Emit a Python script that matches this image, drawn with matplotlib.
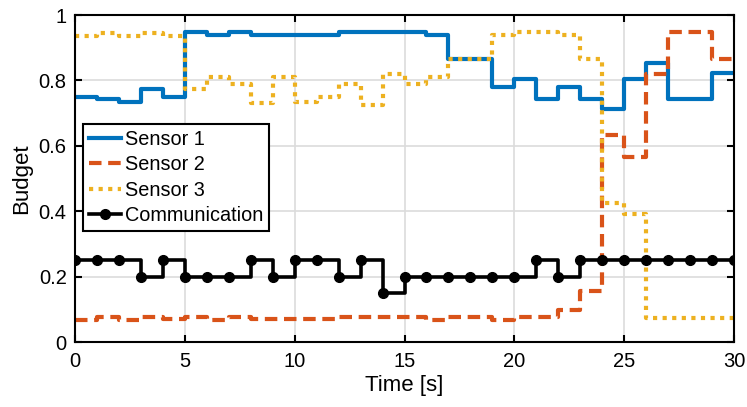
import numpy as np
import matplotlib
matplotlib.use("Agg")
import matplotlib.pyplot as plt

plt.rcParams['font.family'] = ['Liberation Sans', 'DejaVu Sans']

# Time grid (one budget value per second; the last value is held to t = 30)
time = np.arange(0, 31)

sensor1 = [0.749, 0.742, 0.733, 0.774, 0.750, 0.947, 0.940, 0.947, 0.940, 0.940,
           0.940, 0.940, 0.947, 0.947, 0.947, 0.947, 0.940, 0.867, 0.867, 0.779,
           0.804, 0.742, 0.779, 0.742, 0.713, 0.804, 0.852, 0.742, 0.742, 0.822,
           0.822]
sensor2 = [0.068, 0.075, 0.068, 0.075, 0.070, 0.075, 0.068, 0.075, 0.069, 0.069,
           0.069, 0.069, 0.076, 0.076, 0.076, 0.076, 0.068, 0.075, 0.075, 0.068,
           0.075, 0.075, 0.098, 0.156, 0.633, 0.567, 0.820, 0.947, 0.947, 0.865,
           0.865]
sensor3 = [0.935, 0.945, 0.935, 0.945, 0.935, 0.773, 0.811, 0.789, 0.732, 0.811,
           0.733, 0.748, 0.789, 0.724, 0.820, 0.788, 0.811, 0.866, 0.866, 0.940,
           0.947, 0.947, 0.940, 0.867, 0.424, 0.391, 0.074, 0.074, 0.074, 0.074,
           0.074]
communication = [0.25, 0.25, 0.25, 0.20, 0.25, 0.20, 0.20, 0.20, 0.25, 0.20,
                 0.25, 0.25, 0.20, 0.25, 0.15, 0.20, 0.20, 0.20, 0.20, 0.20,
                 0.20, 0.25, 0.20, 0.25, 0.25, 0.25, 0.25, 0.25, 0.25, 0.25,
                 0.25]

labels = ["Sensor 1", "Sensor 2", "Sensor 3", "Communication"]
xticks = [0, 5, 10, 15, 20, 25, 30]
yticks = [0, 0.2, 0.4, 0.6, 0.8, 1]

c_blue = "#0072BD"
c_red = "#D95319"
c_yellow = "#EDB120"

fig = plt.figure(figsize=(7.47, 4.07), dpi=100)
ax = fig.add_axes([0.1004, 0.1597, 0.8822, 0.8034])

ax.step(time, sensor1, where='post', color=c_blue, lw=3.0, label=labels[0])
ax.step(time, sensor2, where='post', color=c_red, lw=3.0,
        linestyle=(0, (3.0, 1.6)), label=labels[1])
ax.step(time, sensor3, where='post', color=c_yellow, lw=3.0,
        linestyle=(0, (1.0, 1.3)), label=labels[2])
ax.step(time, communication, where='post', color='black', lw=2.6,
        label=labels[3])
ax.plot(time, communication, linestyle='none', marker='o', color='black',
        markersize=7)
# proxy handle for the legend (line + marker)
comm_handle = plt.Line2D([], [], color='black', lw=2.6, marker='o', markersize=7)

ax.set_xlim(0, 30)
ax.set_ylim(0, 1)
ax.set_xticks(xticks)
ax.set_yticks(yticks)
ax.set_yticklabels(["0", "0.2", "0.4", "0.6", "0.8", "1"])
ax.tick_params(direction='in', length=5, width=1.5, labelsize=14.5,
               top=True, right=True)
ax.tick_params(axis='x', pad=7)
ax.tick_params(axis='y', pad=6)
for s in ax.spines.values():
    s.set_linewidth(1.5)
ax.grid(True, color='#dcdcdc', linewidth=1.2)
ax.set_axisbelow(True)

ax.set_xlabel("Time [s]", fontsize=16, labelpad=3)
ax.set_ylabel("Budget", fontsize=16, labelpad=5)

handles, _ = ax.get_legend_handles_labels()
handles = handles[:3] + [comm_handle]
leg = ax.legend(handles, labels, loc='upper left', bbox_to_anchor=(0.012, 0.667),
                borderaxespad=0, fontsize=14.3, frameon=True, fancybox=False,
                framealpha=1, edgecolor='black', handlelength=1.6,
                handletextpad=0.2, labelspacing=0.32, borderpad=0.3)
leg.get_frame().set_linewidth(1.5)

fig.savefig("out.png", dpi=100)
